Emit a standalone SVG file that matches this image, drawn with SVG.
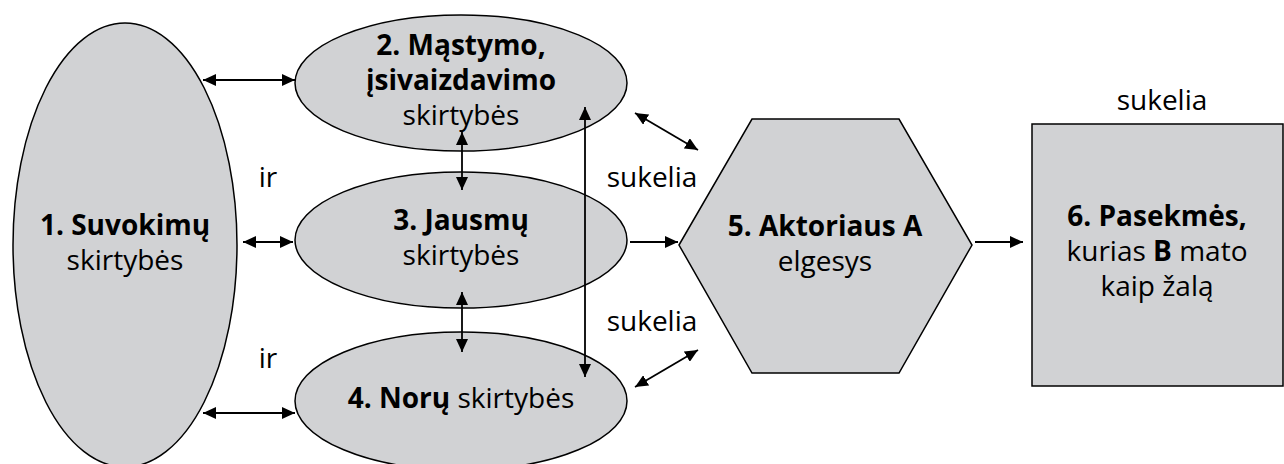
<svg xmlns="http://www.w3.org/2000/svg" width="1284" height="464" viewBox="0 0 1284 464">
<style>
.shape{fill:#d1d2d4;stroke:#000;stroke-width:1.5}
text{font-family:"Open Sans","Noto Sans","DejaVu Sans",sans-serif;font-size:28px;fill:#000;text-anchor:middle}
.b{font-weight:bold}
.conn line{stroke:#000;stroke-width:1.8;fill:none}
.both{marker-start:url(#ah);marker-end:url(#ah)}
.one{marker-end:url(#ah)}
</style>
<defs>
<marker id="ah" markerUnits="userSpaceOnUse" markerWidth="14" markerHeight="12" refX="13" refY="6" orient="auto-start-reverse">
<path d="M0,0 L13,6 L0,12 z" fill="#000"/>
</marker>
</defs>
<rect width="1284" height="464" fill="#fff"/>
<g id="node1">
<ellipse class="shape" cx="125" cy="245" rx="112" ry="222"/>
<text x="125" y="235" class="b">1. Suvokimų</text>
<text x="125" y="270">skirtybės</text>
</g>
<g id="node2">
<ellipse class="shape" cx="461" cy="83" rx="166" ry="68"/>
<text x="461" y="55" class="b">2. Mąstymo,</text>
<text x="461" y="90" class="b">įsivaizdavimo</text>
<text x="461" y="125">skirtybės</text>
</g>
<g id="node3">
<ellipse class="shape" cx="461" cy="240" rx="166" ry="68"/>
<text x="461" y="230" class="b">3. Jausmų</text>
<text x="461" y="265">skirtybės</text>
</g>
<g id="node4">
<ellipse class="shape" cx="461" cy="401" rx="166" ry="69"/>
<text x="461" y="408"><tspan class="b">4. Norų</tspan> skirtybės</text>
</g>
<g id="node5">
<polygon class="shape" points="679,245 752,119 899,119 972,245 899,373 752,373"/>
<text x="825" y="236" class="b">5. Aktoriaus A</text>
<text x="825" y="271">elgesys</text>
</g>
<g id="node6">
<rect class="shape" x="1032" y="124" width="251" height="262"/>
<text x="1157" y="226" class="b">6. Pasekmės,</text>
<text x="1157" y="261">kurias <tspan class="b">B</tspan> mato</text>
<text x="1157" y="296">kaip žalą</text>
</g>
<g id="labels">
<text x="268" y="187">ir</text>
<text x="268" y="368">ir</text>
<text x="652" y="187">sukelia</text>
<text x="652" y="331">sukelia</text>
<text x="1162" y="110">sukelia</text>
</g>
<g class="conn" id="connectors">
<line class="both" x1="203" y1="80" x2="295" y2="80"/>
<line class="both" x1="243" y1="242" x2="293" y2="242"/>
<line class="both" x1="203" y1="413" x2="295" y2="413"/>
<line class="both" x1="462" y1="132" x2="462" y2="190"/>
<line class="both" x1="462" y1="292" x2="462" y2="352"/>
<line class="both" x1="585" y1="107" x2="585" y2="377"/>
<line class="one" x1="630" y1="242" x2="678" y2="242"/>
<line class="both" x1="635" y1="113" x2="698" y2="150"/>
<line class="both" x1="635" y1="387" x2="698" y2="350"/>
<line class="one" x1="975" y1="242" x2="1023" y2="242"/>
</g>
</svg>
